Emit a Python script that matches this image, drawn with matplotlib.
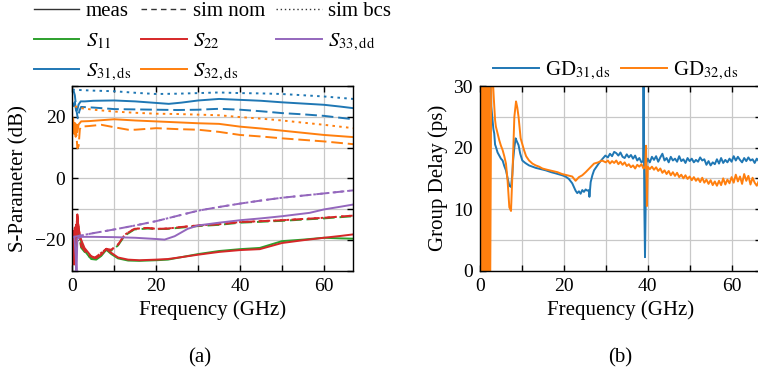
import numpy as np
import matplotlib
matplotlib.use('Agg')
import matplotlib.pyplot as plt
from matplotlib.lines import Line2D

# S-parameters (dB)
f_s31_m = [0.0, 0.3, 0.6, 0.9, 1.2, 1.5, 2.0, 3, 5, 10, 15, 20, 23, 26, 30, 35, 40, 45, 50, 55, 60, 64, 67]
s31_m = [24.5, 23.5, 24.8, 22.0, 22.3, 24.0, 25.0, 25.0, 25.2, 25.3, 25.0, 24.5, 24.2, 24.6, 25.3, 25.8, 25.5,
         25.2, 24.7, 24.3, 23.9, 23.3, 22.8]
f_s31_n = [0.3, 0.6, 1.0, 1.3, 1.7, 2.1, 5, 10, 15, 20, 25, 30, 35, 40, 45, 50, 55, 60, 67]
s31_n = [28.5, 27.0, 22.0, 19.5, 22.0, 23.2, 23.0, 22.5, 22.4, 22.3, 22.2, 22.3, 22.6, 22.3, 21.8, 21.2, 20.8,
         20.3, 19.2]
f_s31_b = [0, 5, 10, 15, 20, 25, 30, 35, 40, 45, 50, 55, 60, 67]
s31_b = [28.8, 28.5, 28.3, 27.8, 27.4, 27.5, 27.7, 27.9, 27.7, 27.6, 27.4, 27.0, 26.6, 25.8]

f_s32_m = [0.0, 0.2, 0.4, 0.6, 0.8, 1.0, 1.2, 1.5, 2.1, 4, 7, 10, 15, 20, 25, 30, 35, 40, 45, 50, 55, 60, 67]
s32_m = [16, 19.5, 14.5, 18, 13.5, 17.5, 15, 17.5, 18.5, 18.6, 18.9, 19.2, 18.8, 18.5, 18.2, 17.9, 17.7, 16.8,
         16.2, 15.5, 14.8, 14.1, 13.4]
f_s32_n = [0.6, 1.0, 1.2, 1.5, 1.8, 2.1, 4, 6.9, 10, 13.3, 15, 20, 25, 30, 35, 40, 45, 50, 55, 60, 67]
s32_n = [17.5, 14, 9.8, 10.5, 16, 16.8, 17.0, 17.4, 16.6, 15.8, 15.8, 16.3, 16.0, 15.8, 15.1, 14.1, 13.6, 13.0,
         12.5, 12.0, 11.1]
f_s32_b = [0.6, 2.1, 5, 10, 15, 20, 25, 30, 35, 40, 45, 50, 55, 60, 67]
s32_b = [23.4, 22.8, 22.3, 21.7, 21.3, 21.0, 20.9, 20.7, 20.5, 19.9, 19.4, 18.8, 18.1, 17.4, 16.3]

f_s33_m = [0.0, 0.5, 0.8, 1.0, 1.2, 2.1, 5, 10, 15, 20, 22, 24.4, 27.5, 30, 35, 40, 45, 50, 56.6, 60, 64, 67]
s33_m = [-19, -19, -25, -31, -19.5, -19.0, -19.0, -19.1, -19.3, -19.7, -19.9, -18.8, -16.4, -15.3, -14.4, -13.6,
         -13.0, -12.3, -11.2, -10.1, -9.2, -8.5]
f_s33_n = [0, 5, 10, 15, 20, 25, 30, 35, 40, 45, 50, 55, 60, 67]
s33_n = [-19.1, -17.8, -16.6, -15.3, -13.9, -12.2, -10.5, -9.3, -8.2, -7.2, -6.3, -5.6, -4.9, -3.9]

f_refl_m = [0.0, 0.15, 0.3, 0.45, 0.6, 0.75, 0.9, 1.05, 1.2, 1.4, 1.7, 2.1, 2.9, 4.5, 5.7, 6.9, 8.1, 9.3, 10.9,
            13.3, 16, 20, 22.8, 26, 30, 35, 40, 44.7, 50, 55, 60, 64, 67]
s22_m = [-20, -26, -17, -28, -19, -24, -15, -21, -11.7, -15, -18, -19.9, -22.6, -25.3, -25.9, -24.8, -22.9, -24.2,
         -25.7, -26.4, -26.6, -26.4, -26.2, -25.6, -24.8, -23.9, -23.3, -23.0, -21.0, -20.1, -19.3, -18.7, -18.2]
s11_m = [-21, -28, -18, -25, -20, -27, -16, -23, -13, -16, -19, -20.5, -23.5, -26.2, -26.4, -25.2, -23.2, -24.6,
         -26.0, -26.7, -26.8, -26.6, -26.4, -25.6, -24.6, -23.6, -23.0, -22.6, -20.4, -19.9, -19.3, -19.5, -19.6]
f_refl_n = [0.0, 0.3, 0.6, 0.9, 1.2, 1.5, 2.1, 3.0, 3.7, 5.3, 6.9, 8.1, 9.3, 10.9, 12.5, 14.8, 18, 20, 22.8, 26,
            30, 35, 40, 45, 50, 55, 60, 67]
s22_n = [-19, -21, -16, -17, -12.3, -16, -22, -23.5, -24.8, -25.9, -24.2, -22.9, -23.2, -21.5, -18.3, -16.4,
         -16.1, -16.4, -16.3, -15.8, -15.3, -14.9, -14.2, -13.9, -13.6, -13.2, -12.8, -12.1]
s11_n = [-19.5, -22, -17, -18, -13, -17, -22.5, -24, -25.2, -26.2, -24.6, -23.2, -23.5, -21.8, -18.6, -16.6,
         -16.3, -16.5, -16.4, -16.0, -15.5, -15.1, -14.4, -14.1, -13.8, -13.4, -13.0, -12.3]

# group delay (ps)
f_gd31 = [1.3, 1.5, 1.6, 2.6, 2.7, 3.0, 3.2, 3.4, 3.6, 3.8, 4.2, 4.6, 5.0, 5.4, 5.8, 6.2, 6.6, 7.0, 7.4, 7.7, 7.9,
          8.2, 8.5, 8.8, 9.2, 9.6, 10.1, 10.8, 11.7, 12.5, 13.3, 14.5, 15.7, 17.0, 18.1, 19.6, 20.4, 21.2, 22.0,
          22.8, 23.2, 23.6, 24.0, 24.4, 24.8, 25.2, 25.6, 26.0, 26.1, 26.4, 26.8, 27.2, 27.8, 28.3, 29.0, 29.9,
          30.5, 31.0, 31.5, 32.0, 32.5, 33.0, 33.5, 34.0, 34.5, 35.0, 35.5, 36.0, 36.5, 37.0, 37.5, 38.0, 38.5,
          38.9, 39.0, 39.2, 39.35, 39.5, 39.7, 40.0, 40.5, 41.0, 41.5, 42.0, 42.5, 43.0, 43.5, 44.0, 44.5, 45.0,
          45.5, 46.0, 46.5, 47.0, 47.5, 48.0, 48.5, 49.0, 49.5, 50.0, 50.5, 51.0, 51.5, 52.0, 52.5, 53.0, 53.5,
          54.0, 54.5, 55.0, 55.5, 56.0, 56.5, 57.0, 57.5, 58.0, 58.5, 59.0, 59.5, 60.0, 60.5, 61.0, 61.5, 62.0,
          62.5, 63.0, 63.5, 64.0, 64.5, 65.0, 65.5, 66.0, 66.5, 67.0]
gd31 = [-2, 29, 32, 32, 26.7, 24.5, 23.0, 22.3, 20.5, 20.1, 19.2, 18.7, 18.2, 17.9, 17.0, 16.3, 15.0, 13.8, 13.6,
        15.5, 17.9, 20.0, 21.5, 21.0, 20.4, 19.0, 17.9, 17.5, 17.1, 16.9, 16.7, 16.5, 16.3, 16.0, 15.8, 15.5, 15.3,
        14.9, 14.2, 13.0, 12.6, 12.9, 12.5, 13.1, 12.8, 13.2, 13.0, 13.1, 12.0, 14.4, 15.5, 16.3, 16.9, 17.4, 18.0,
        18.7, 18.4, 19.0, 18.6, 19.3, 19.1, 18.7, 19.2, 18.5, 18.3, 18.9, 18.4, 18.8, 18.2, 18.7, 17.9, 18.3, 17.6,
        17.8, 31, 10, 2.2, 10, 17.5, 18.2, 17.6, 18.5, 18.0, 18.6, 17.7, 18.4, 19.0, 17.9, 18.3, 17.6, 18.5, 17.9,
        18.2, 17.7, 18.6, 17.8, 18.1, 17.5, 18.3, 17.8, 18.2, 17.6, 18.0, 17.7, 18.4, 17.9, 18.1, 17.2, 17.8, 17.1,
        17.6, 17.3, 18.1, 17.4, 18.3, 17.5, 18.0, 17.6, 18.2, 17.7, 18.6, 17.9, 18.5, 18.0, 17.6, 18.3, 17.8, 18.4,
        17.9, 18.1, 17.5, 18.2, 17.8, 18.0]
f_gd32 = [0.0, 0.15, 0.3, 0.45, 0.6, 0.75, 0.9, 1.05, 1.2, 1.35, 1.5, 1.65, 1.8, 1.95, 2.1, 2.3, 2.45, 2.7, 3.0,
          3.3, 3.6, 3.8, 4.2, 4.6, 5.0, 5.4, 5.8, 6.2, 6.6, 7.0, 7.4, 7.8, 8.2, 8.6, 8.9, 9.2, 9.7, 10.5, 11.0,
          11.7, 12.5, 13.3, 14.1, 14.9, 16.0, 17.3, 18.5, 19.6, 20.8, 22.0, 22.8, 23.6, 24.4, 25.2, 26.2, 27.2,
          28.2, 29.1, 30.0, 30.5, 31.0, 31.5, 32.0, 32.5, 33.0, 33.5, 34.0, 34.5, 35.0, 35.5, 36.0, 36.5, 37.0,
          37.5, 38.0, 38.5, 39.0, 39.4, 39.6, 39.8, 40.0, 40.5, 41.0, 41.5, 42.0, 42.5, 43.0, 43.5, 44.0, 44.5,
          45.0, 45.5, 46.0, 46.5, 47.0, 47.5, 48.0, 48.5, 49.0, 49.5, 50.0, 50.5, 51.0, 51.5, 52.0, 52.5, 53.0,
          53.5, 54.0, 54.5, 55.0, 55.5, 56.0, 56.5, 57.0, 57.5, 58.0, 58.5, 59.0, 59.5, 60.0, 60.5, 61.0, 61.5,
          62.0, 62.5, 63.0, 63.5, 64.0, 64.5, 65.0, 65.5, 66.0, 66.5, 67.0]
gd32 = [30, 0, 32, 0, 32, -1, 32, -1, 32, 0, 32, -1, 32, 0, 32, -1, -1, 32, 32, 28, 24.5, 23.4, 22.3, 21.2, 20.3,
        19.6, 18.6, 17.4, 14.5, 10.3, 9.7, 16.8, 25.0, 27.5, 26.5, 25.0, 21.5, 19.6, 18.6, 17.9, 17.4, 17.1, 16.9,
        16.6, 16.4, 16.2, 16.0, 15.7, 15.5, 15.3, 14.6, 15.2, 15.5, 16.0, 16.7, 17.4, 17.6, 17.9, 17.6, 17.9, 17.4,
        17.8, 17.5, 17.9, 17.3, 17.7, 17.2, 17.6, 17.0, 17.3, 16.8, 17.1, 16.6, 17.2, 16.9, 17.3, 16.6, 16.9, 20.3,
        10.5, 16.9, 16.5, 16.9, 16.4, 16.8, 16.2, 16.6, 15.9, 16.3, 15.7, 16.2, 15.5, 16.0, 15.4, 15.9, 15.2, 15.6,
        15.0, 15.5, 14.9, 15.3, 14.7, 15.2, 14.6, 15.0, 14.4, 15.1, 14.3, 14.8, 14.1, 14.7, 13.9, 14.5, 13.8, 14.6,
        13.9, 15.0, 14.0, 14.8, 14.2, 15.2, 14.3, 15.6, 14.5, 15.3, 14.1, 15.7, 14.6, 15.4, 14.0, 15.1, 14.3, 13.8,
        14.6, 14.2]

c_blue, c_orange, c_green, c_red, c_purple = '#1f77b4', '#ff7f0e', '#2ca02c', '#d62728', '#9467bd'

plt.rcParams['font.family'] = ['Liberation Serif', 'DejaVu Serif']
plt.rcParams['mathtext.fontset'] = 'stix'
plt.rcParams['axes.linewidth'] = 1.0

fs = 15
lw = 1.4
dsh = (6, 2.5)
dot = (1.3, 2.2)

fig = plt.figure(figsize=(7.58, 3.72), dpi=100)
ax1 = fig.add_axes([0.0954, 0.2723, 0.3707, 0.4965])
ax2 = fig.add_axes([0.6332, 0.2723, 0.3707, 0.4965])


def style(ax):
    ax.grid(True, color='#c8c8c8', lw=0.9)
    ax.set_axisbelow(True)
    ax.tick_params(direction='in', top=True, right=True, length=4.5, width=1, labelsize=fs - 1, pad=5)
    ax.set_xlim(0, 67)
    ax.set_xticks(range(0, 61, 10))
    ax.set_xticklabels(['0', '', '20', '', '40', '', '60'])
    ax.set_xlabel('Frequency (GHz)', fontsize=fs)
    ax.xaxis.set_label_coords(0.5, -0.16)


# (a) S-parameters
style(ax1)
ax1.plot(f_refl_m, s11_m, color=c_green, lw=lw)
ax1.plot(f_refl_n, s11_n, color=c_green, lw=lw, dashes=dsh)
ax1.plot(f_refl_m, s22_m, color=c_red, lw=lw)
ax1.plot(f_refl_n, s22_n, color=c_red, lw=lw, dashes=dsh)
ax1.plot(f_refl_n, s22_n, color=c_red, lw=lw, dashes=dot)
ax1.plot(f_s33_m, s33_m, color=c_purple, lw=lw)
ax1.plot(f_s33_n, s33_n, color=c_purple, lw=lw, dashes=dsh)
ax1.plot(f_s33_n, s33_n, color=c_purple, lw=lw, dashes=dot)
ax1.plot(f_s31_m, s31_m, color=c_blue, lw=lw)
ax1.plot(f_s31_n, s31_n, color=c_blue, lw=lw, dashes=dsh)
ax1.plot(f_s31_b, s31_b, color=c_blue, lw=lw, dashes=dot)
ax1.plot(f_s32_m, s32_m, color=c_orange, lw=lw)
ax1.plot(f_s32_n, s32_n, color=c_orange, lw=lw, dashes=dsh)
ax1.plot(f_s32_b, s32_b, color=c_orange, lw=lw, dashes=dot)
ax1.set_ylim(-30, 30)
ax1.set_yticks(range(-30, 31, 10))
ax1.set_yticklabels(['', '\u221220', '', '0', '', '20', ''])
ax1.set_ylabel('S-Parameter (dB)', fontsize=fs)
ax1.yaxis.set_label_coords(-0.155, 0.5)

h = [Line2D([], [], color='#333333', lw=1),
     Line2D([], [], color=c_green, lw=lw),
     Line2D([], [], color=c_blue, lw=lw),
     Line2D([], [], color='#333333', lw=1, dashes=(4, 3)),
     Line2D([], [], color=c_red, lw=lw),
     Line2D([], [], color=c_orange, lw=lw),
     Line2D([], [], color='#333333', lw=1, dashes=(1, 2)),
     Line2D([], [], color=c_purple, lw=lw),
     Line2D([], [], color='none')]
lab = ['meas', r'$S_{11}$', r'$S_{31,\mathrm{ds}}$',
       'sim nom', r'$S_{22}$', r'$S_{32,\mathrm{ds}}$',
       'sim bcs', r'$S_{33,\mathrm{dd}}$', '']
fig.legend(h, lab, ncol=3, loc='upper left', bbox_to_anchor=(0.025, 1.035), frameon=False, fontsize=fs,
           handlelength=2.2, handletextpad=0.3, columnspacing=0.5, labelspacing=0.5, borderpad=0.2)

# (b) group delay
style(ax2)
ax2.plot(f_gd31, gd31, color=c_blue, lw=lw, label=r'GD$_{31,\mathrm{ds}}$')
ax2.plot(f_gd32, gd32, color=c_orange, lw=lw, label=r'GD$_{32,\mathrm{ds}}$')
ax2.set_ylim(0, 30)
ax2.set_yticks(range(0, 31, 5))
ax2.set_yticklabels(['0', '', '10', '', '20', '', '30'])
ax2.set_ylabel('Group Delay (ps)', fontsize=fs)
ax2.yaxis.set_label_coords(-0.115, 0.5)
fig.legend(loc='center', bbox_to_anchor=(0.812, 0.81), ncol=2, frameon=False, fontsize=fs,
           handlelength=2.2, handletextpad=0.3, columnspacing=0.5, borderpad=0.2)

fig.text(200 / 758, 1 - 358 / 372, '(a)', ha='center', va='center', fontsize=fs)
fig.text(620 / 758, 1 - 358 / 372, '(b)', ha='center', va='center', fontsize=fs)

fig.savefig('out.png', dpi=100)
